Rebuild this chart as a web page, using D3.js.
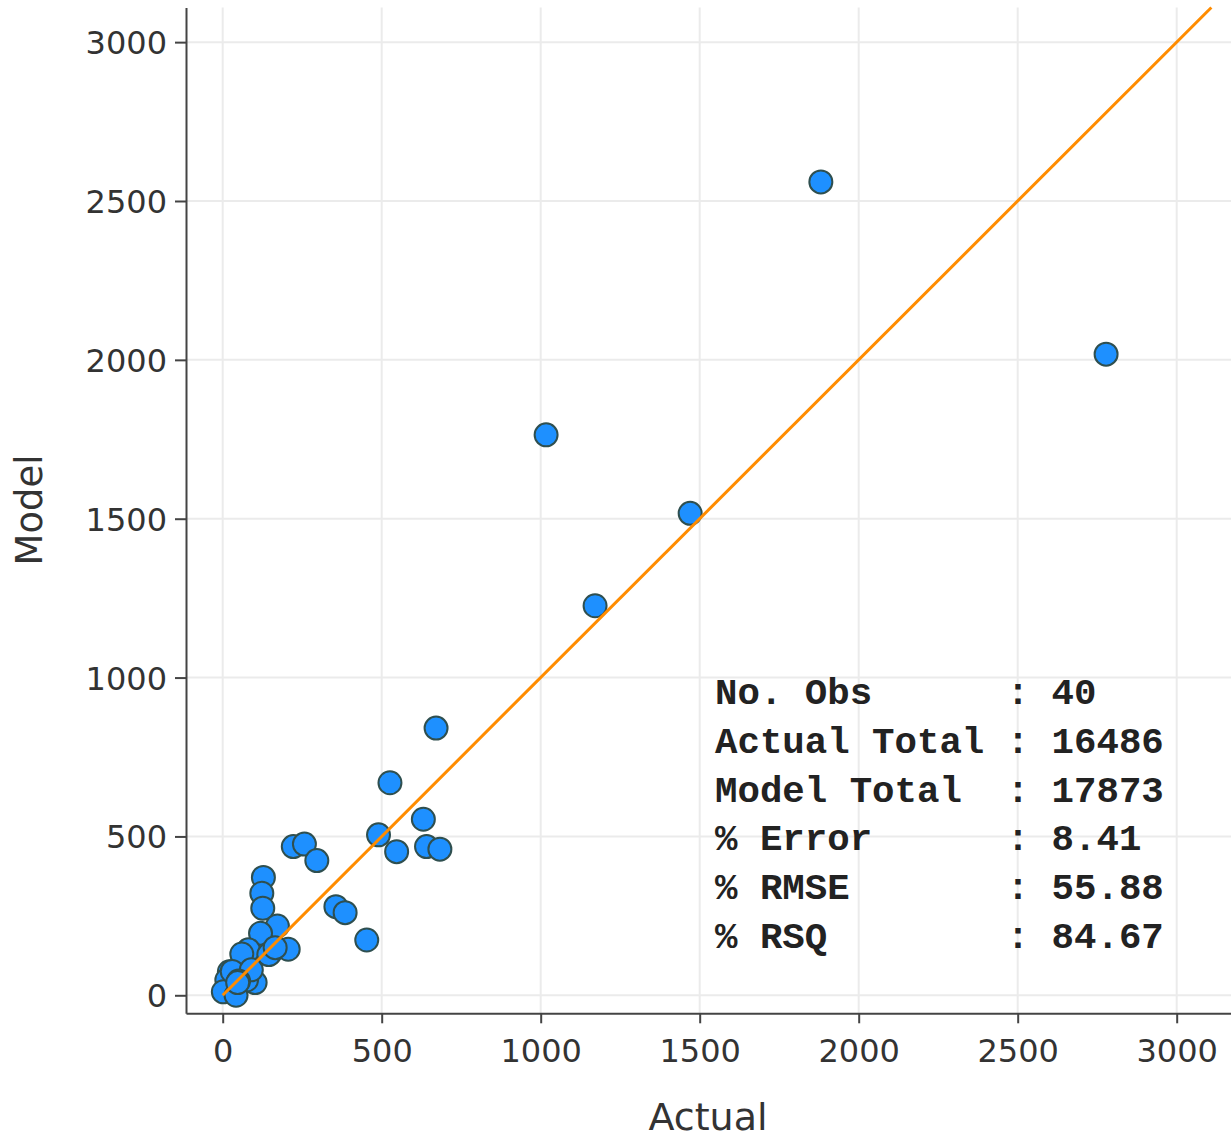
<!DOCTYPE html>
<html>
<head>
<meta charset="utf-8">
<script src="https://cdn.jsdelivr.net/npm/d3@7"></script>
<style>
  body { margin: 0; background: #fff; }
  svg { display: block; }
</style>
</head>
<body>
<div id="chart"></div>
<script>
var actual = [1881, 2778, 1017, 1470, 1171, 671, 526, 631, 490, 547,
              641, 683, 222, 257, 296, 128, 123, 126, 356, 385,
              453, 172, 119, 206, 149, 81, 65, 21, 13, 102,
              75, 2, 42, 145, 165, 60, 30, 90, 50, 47];
var model  = [2560, 2018, 1764, 1517, 1226, 841, 669, 554, 505, 452,
              468, 460, 468, 476, 424, 371, 321, 274, 279, 260,
              174, 218, 195, 145, 132, 143, 90, 74, 48, 40,
              48, 11, 0, 128, 150, 130, 75, 80, 45, 40];
var tickValues = [0, 500, 1000, 1500, 2000, 2500, 3000];
var statLabels = ["No. Obs      ", "Actual Total ", "Model Total  ", "% Error      ", "% RMSE       ", "% RSQ        "];
var statValues = ["40", "16486", "17873", "8.41", "55.88", "84.67"];
var lineEnd = 3109;

var drawChart = function() {
  var w = 1231, h = 1138;
  var plotLeft = 186, plotRight = 1231, plotTop = 7.5, plotBottom = 1013.3;

  var svg = d3.select("#chart")
    .append("svg")
    .attr("width", w)
    .attr("height", h);

  var xScale = d3.scaleLinear()
    .domain([-115.4, 3170.8])
    .range([plotLeft, plotRight]);

  var yScale = d3.scaleLinear()
    .domain([-56.7, 3109])
    .range([plotBottom, plotTop]);

  // grid
  svg.append("g").selectAll("line")
    .data(tickValues)
    .enter()
    .append("line")
    .attr("x1", function(d) { return xScale(d); })
    .attr("x2", function(d) { return xScale(d); })
    .attr("y1", plotTop)
    .attr("y2", plotBottom)
    .attr("stroke", "#ebebeb")
    .attr("stroke-width", 2);

  svg.append("g").selectAll("line")
    .data(tickValues)
    .enter()
    .append("line")
    .attr("x1", plotLeft)
    .attr("x2", plotRight)
    .attr("y1", function(d) { return yScale(d); })
    .attr("y2", function(d) { return yScale(d); })
    .attr("stroke", "#ebebeb")
    .attr("stroke-width", 2);

  // points
  svg.append("g").selectAll("circle")
    .data(actual)
    .enter()
    .append("circle")
    .attr("cx", function(d) { return xScale(d); })
    .attr("cy", function(d, i) { return yScale(model[i]); })
    .attr("r", 11.5)
    .attr("fill", "#1e90ff")
    .attr("stroke", "#2f4f4f")
    .attr("stroke-width", 2);

  // 1:1 line
  svg.append("line")
    .attr("x1", xScale(0))
    .attr("y1", yScale(0))
    .attr("x2", xScale(lineEnd))
    .attr("y2", yScale(lineEnd))
    .attr("stroke", "#ff8c00")
    .attr("stroke-width", 3);

  // axes
  var xAxis = svg.append("g")
    .attr("transform", "translate(0," + plotBottom + ")")
    .call(d3.axisBottom(xScale).tickValues(tickValues).tickFormat(d3.format("d"))
      .tickSize(10).tickPadding(8).tickSizeOuter(0));

  var yAxis = svg.append("g")
    .attr("transform", "translate(" + plotLeft + ",0)")
    .call(d3.axisLeft(yScale).tickValues(tickValues).tickFormat(d3.format("d"))
      .tickSize(11).tickPadding(8).tickSizeOuter(0));

  [xAxis, yAxis].forEach(function(ax) {
    ax.select(".domain").attr("stroke", "#444").attr("stroke-width", 2);
    ax.selectAll(".tick line").attr("stroke", "#444").attr("stroke-width", 2);
    ax.selectAll(".tick text")
      .attr("fill", "#333")
      .attr("font-family", "DejaVu Sans, Verdana, sans-serif")
      .attr("font-size", "32px");
  });
  yAxis.selectAll(".tick text").attr("dy", "0.36em");
  xAxis.selectAll(".tick text").attr("dy", "0.95em");

  // axis titles
  svg.append("text")
    .attr("x", 708)
    .attr("y", 1130)
    .attr("text-anchor", "middle")
    .attr("font-family", "DejaVu Sans, Verdana, sans-serif")
    .attr("font-size", "38px")
    .attr("fill", "#333")
    .text("Actual");

  svg.append("text")
    .attr("transform", "translate(42,510) rotate(-90)")
    .attr("text-anchor", "middle")
    .attr("font-family", "DejaVu Sans, Verdana, sans-serif")
    .attr("font-size", "37px")
    .attr("fill", "#333")
    .text("Model");

  // stats box
  var stats = svg.append("g")
    .attr("font-family", "Liberation Mono, Courier New, monospace")
    .attr("font-weight", "bold")
    .attr("font-size", "37.4px")
    .attr("fill", "#222");

  stats.selectAll("text")
    .data(statLabels)
    .enter()
    .append("text")
    .attr("x", 715)
    .attr("y", function(d, i) { return 704 + i * 48.8; })
    .style("white-space", "pre")
    .text(function(d, i) { return d + ": " + statValues[i]; });
};

drawChart();
</script>
</body>
</html>
